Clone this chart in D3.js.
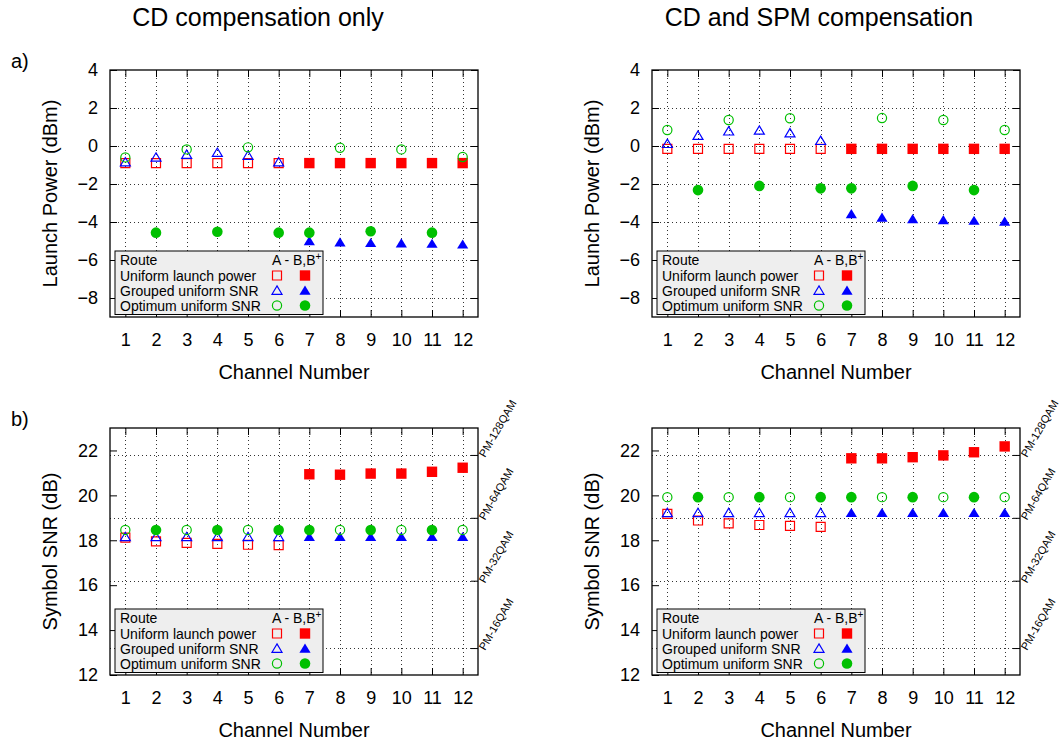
<!DOCTYPE html>
<html>
<head>
<meta charset="utf-8">
<script src="https://cdn.jsdelivr.net/npm/d3@7"></script>
<style>
  body { margin: 0; background: #fff; }
  svg { display: block; }
  text { font-family: "Liberation Sans", Arial, Helvetica, sans-serif; fill: #000; }
</style>
</head>
<body>
<svg id="fig" width="1060" height="742"></svg>
<script>
// ---- data -------------------------------------------------------------
const channels = [1, 2, 3, 4, 5, 6, 7, 8, 9, 10, 11, 12];

// route carried by each channel ("A" hollow marker, "B" solid marker)
const routeUniformPower = ["A", "A", "A", "A", "A", "A", "B", "B", "B", "B", "B", "B"];
const routeGroupedSnr   = ["A", "A", "A", "A", "A", "A", "B", "B", "B", "B", "B", "B"];
const routeOptimumSnr   = ["A", "B", "A", "B", "A", "B", "B", "A", "B", "A", "B", "A"];

// launch power per channel (dBm), CD compensation only
const powerUniformCD = [-0.9, -0.9, -0.9, -0.9, -0.9, -0.9, -0.9, -0.9, -0.9, -0.9, -0.9, -0.9];
const powerGroupedCD = [-0.85, -0.6, -0.45, -0.35, -0.5, -0.85, -5.0, -5.07, -5.1, -5.12, -5.14, -5.18];
const powerOptimumCD = [-0.6, -4.56, -0.18, -4.51, -0.07, -4.56, -4.56, -0.09, -4.49, -0.18, -4.56, -0.58];

// launch power per channel (dBm), CD and SPM compensation
const powerUniformSPM = [-0.15, -0.15, -0.15, -0.15, -0.15, -0.15, -0.15, -0.15, -0.15, -0.15, -0.15, -0.15];
const powerGroupedSPM = [0.12, 0.55, 0.78, 0.82, 0.68, 0.28, -3.58, -3.76, -3.84, -3.9, -3.93, -3.98];
const powerOptimumSPM = [0.84, -2.32, 1.37, -2.1, 1.46, -2.23, -2.23, 1.47, -2.1, 1.37, -2.32, 0.84];

// symbol SNR per channel (dB), CD compensation only
const snrUniformCD = [18.12, 17.95, 17.88, 17.84, 17.8, 17.78, 20.94, 20.92, 20.97, 20.97, 21.05, 21.23];
const snrGroupedCD = [18.15, 18.15, 18.15, 18.15, 18.15, 18.15, 18.15, 18.15, 18.15, 18.15, 18.15, 18.15];
const snrOptimumCD = [18.46, 18.46, 18.46, 18.46, 18.46, 18.46, 18.46, 18.46, 18.46, 18.46, 18.46, 18.46];

// symbol SNR per channel (dB), CD and SPM compensation
const snrUniformSPM = [19.18, 18.88, 18.75, 18.68, 18.64, 18.6, 21.65, 21.65, 21.7, 21.78, 21.92, 22.18];
const snrGroupedSPM = [19.22, 19.22, 19.22, 19.22, 19.22, 19.22, 19.22, 19.22, 19.22, 19.22, 19.22, 19.22];
const snrOptimumSPM = [19.92, 19.92, 19.92, 19.92, 19.92, 19.92, 19.92, 19.92, 19.92, 19.92, 19.92, 19.92];

// required SNR of each modulation format (dB)
const formatLabels     = ["PM-16QAM", "PM-32QAM", "PM-64QAM", "PM-128QAM"];
const formatThresholds = [13.2, 16.2, 19.0, 21.8];

// axis ticks
const powerTicks = [-8, -6, -4, -2, 0, 2, 4];
const snrTicks   = [12, 14, 16, 18, 20, 22];

const columnTitles = ["CD compensation only", "CD and SPM compensation"];
const rowTags = ["a)", "b)"];

// ---- layout -----------------------------------------------------------
const PW = 368, PH = 247;
const colLeft = [110, 652];
const rowTop = [70, 428];

const schemes = [
  { key: "uniform", name: "Uniform launch power", shape: "square",   color: "#ff0000", route: routeUniformPower },
  { key: "grouped", name: "Grouped uniform SNR",  shape: "triangle", color: "#0000ff", route: routeGroupedSnr },
  { key: "optimum", name: "Optimum uniform SNR",  shape: "circle",   color: "#00c000", route: routeOptimumSnr }
];

const panels = [
  { col: 0, row: 0, domain: [-9, 4], ticks: powerTicks, label: "Launch Power (dBm)",
    data: { uniform: powerUniformCD, grouped: powerGroupedCD, optimum: powerOptimumCD }, formats: false },
  { col: 1, row: 0, domain: [-9, 4], ticks: powerTicks, label: "Launch Power (dBm)",
    data: { uniform: powerUniformSPM, grouped: powerGroupedSPM, optimum: powerOptimumSPM }, formats: false },
  { col: 0, row: 1, domain: [12, 23], ticks: snrTicks, label: "Symbol SNR (dB)",
    data: { uniform: snrUniformCD, grouped: snrGroupedCD, optimum: snrOptimumCD }, formats: true },
  { col: 1, row: 1, domain: [12, 23], ticks: snrTicks, label: "Symbol SNR (dB)",
    data: { uniform: snrUniformSPM, grouped: snrGroupedSPM, optimum: snrOptimumSPM }, formats: true }
];

function markerPath(shape, hollow) {
  if (shape === "square") {
    const s = hollow ? 4.5 : 5.2;
    return `M${-s},${-s}H${s}V${s}H${-s}Z`;
  }
  if (shape === "triangle") {
    return hollow ? "M0,-4.6L5,3.8H-5Z" : "M0,-5L5.6,4.2H-5.6Z";
  }
  const r = hollow ? 4.6 : 5.3;
  return `M${r},0A${r},${r} 0 1,1 ${-r},0A${r},${r} 0 1,1 ${r},0Z`;
}

const svg = d3.select("#fig");

// column titles and row tags
svg.selectAll("text.coltitle").data(columnTitles).join("text")
  .attr("class", "coltitle")
  .attr("x", (d, i) => [258, 819][i]).attr("y", 26)
  .attr("text-anchor", "middle").attr("font-size", 25)
  .text(d => d);

svg.selectAll("text.rowtag").data(rowTags).join("text")
  .attr("class", "rowtag")
  .attr("x", 11).attr("y", (d, i) => [68, 426][i])
  .attr("font-size", 20)
  .text(d => d);

panels.forEach(p => {
  const x0 = colLeft[p.col], y0 = rowTop[p.row];
  const x = d3.scaleLinear().domain([0.5, 12.5]).range([x0, x0 + PW]);
  const y = d3.scaleLinear().domain(p.domain).range([y0 + PH, y0]);
  const g = svg.append("g");

  // grid
  const grid = g.append("g").attr("stroke", "#333").attr("stroke-width", 1)
    .attr("stroke-dasharray", "1,3").attr("shape-rendering", "crispEdges");
  grid.selectAll("line.gx").data(channels).join("line")
    .attr("x1", d => Math.round(x(d)) + 0.5).attr("x2", d => Math.round(x(d)) + 0.5)
    .attr("y1", y0).attr("y2", y0 + PH);
  const hGrid = p.formats ? formatThresholds : p.ticks.filter(t => t > p.domain[0] && t < p.domain[1]);
  grid.selectAll("line.gy").data(hGrid).join("line")
    .attr("x1", x0).attr("x2", x0 + PW)
    .attr("y1", d => Math.round(y(d)) + 0.5).attr("y2", d => Math.round(y(d)) + 0.5);

  // axes with inward ticks
  const axisStyle = sel => {
    sel.select(".domain").remove();
    sel.selectAll(".tick line").attr("stroke", "#000").attr("stroke-width", 1);
    sel.selectAll(".tick text").attr("font-family", "Liberation Sans, Arial, sans-serif")
      .attr("font-size", 18).attr("fill", "#000");
  };
  g.append("g").attr("transform", `translate(0,${y0 + PH})`)
    .call(d3.axisBottom(x).tickValues(channels).tickFormat(d3.format("d"))
      .tickSizeInner(-7).tickSizeOuter(0).tickPadding(16.5))
    .call(axisStyle);
  g.append("g").attr("transform", `translate(0,${y0})`)
    .call(d3.axisTop(x).tickValues(channels).tickFormat("").tickSizeInner(-7).tickSizeOuter(0))
    .call(axisStyle);
  g.append("g").attr("transform", `translate(${x0},0)`)
    .call(d3.axisLeft(y).tickValues(p.ticks).tickFormat(d3.format("d"))
      .tickSizeInner(-7).tickSizeOuter(0).tickPadding(12))
    .call(axisStyle);
  g.append("g").attr("transform", `translate(${x0 + PW},0)`)
    .call(d3.axisRight(y).tickValues(p.formats ? formatThresholds : p.ticks).tickFormat("")
      .tickSizeInner(-7).tickSizeOuter(0))
    .call(axisStyle);

  // modulation format labels on the right-hand axis
  if (p.formats) {
    g.selectAll("text.fmt").data(formatThresholds).join("text")
      .attr("class", "fmt")
      .attr("transform", d => `translate(${x0 + PW + 7},${y(d) + 3}) rotate(-60)`)
      .attr("font-size", 11)
      .text((d, i) => formatLabels[i]);
  }

  // axis titles
  g.append("text")
    .attr("transform", `translate(${x0 - 53},${y0 + PH / 2}) rotate(-90)`)
    .attr("text-anchor", "middle").attr("font-size", 20)
    .text(p.label);
  g.append("text")
    .attr("x", x0 + PW / 2).attr("y", y0 + PH + 62)
    .attr("text-anchor", "middle").attr("font-size", 20)
    .text("Channel Number");

  // data points
  schemes.forEach(s => {
    const vals = p.data[s.key];
    g.append("g").selectAll("path").data(channels.map((c, i) => ({ c, v: vals[i], hollow: s.route[i] === "A" })))
      .join("path")
      .attr("transform", d => `translate(${x(d.c)},${y(d.v)})`)
      .attr("d", d => markerPath(s.shape, d.hollow))
      .attr("fill", d => d.hollow ? "none" : s.color)
      .attr("stroke", d => d.hollow ? s.color : "none")
      .attr("stroke-width", 1.2);
  });

  // frame
  g.append("rect").attr("x", x0).attr("y", y0).attr("width", PW).attr("height", PH)
    .attr("fill", "none").attr("stroke", "#000").attr("stroke-width", 1.3);

  // legend
  const lg = g.append("g").attr("transform", `translate(${x0 + 5},${y0 + PH - 66})`);
  lg.append("rect").attr("width", 208).attr("height", 63.5)
    .attr("fill", "#eeeeee").attr("stroke", "#000").attr("stroke-width", 1);
  lg.append("text").attr("x", 5).attr("y", 14).attr("font-size", 14).text("Route");
  const hdr = lg.append("text").attr("x", 157).attr("y", 14).attr("font-size", 14);
  hdr.append("tspan").text("A - B,B");
  hdr.append("tspan").attr("dy", -5).attr("font-size", 10).text("+");
  schemes.forEach((s, i) => {
    const base = 29.5 + i * 15;
    lg.append("text").attr("x", 5).attr("y", base).attr("font-size", 14).text(s.name);
    [true, false].forEach((hollow, k) => {
      lg.append("path")
        .attr("transform", `translate(${k ? 190 : 162},${base - 5})`)
        .attr("d", markerPath(s.shape, hollow))
        .attr("fill", hollow ? "none" : s.color)
        .attr("stroke", hollow ? s.color : "none")
        .attr("stroke-width", 1.2);
    });
  });
});
</script>
</body>
</html>
